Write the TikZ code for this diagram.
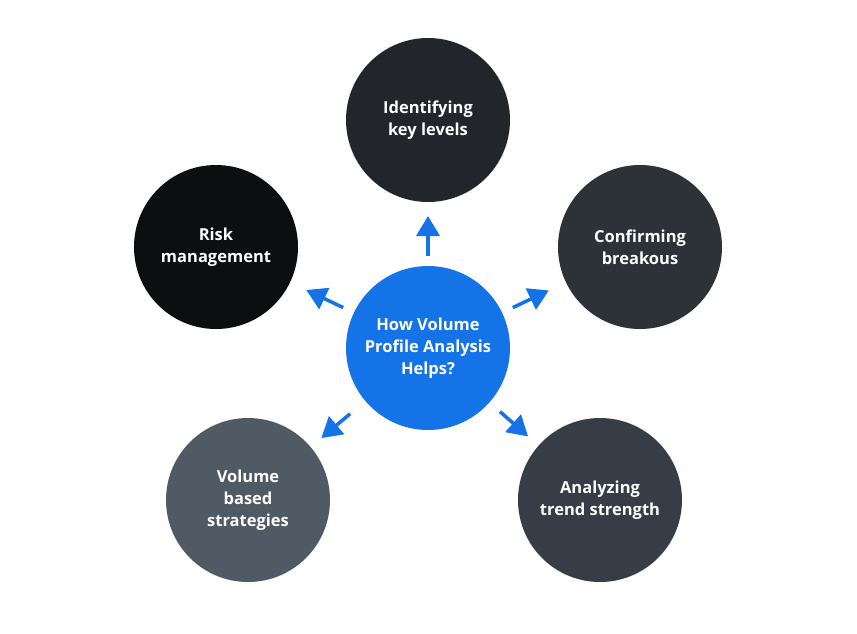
\documentclass[tikz,border=0pt]{standalone}
\usepackage{fontspec}
\setmainfont{Open Sans}
\usetikzlibrary{arrows.meta}
\definecolor{cblue}{HTML}{1473E6}
\definecolor{ctop}{HTML}{222529}
\definecolor{cleft}{HTML}{0D0E10}
\definecolor{cright}{HTML}{2D3237}
\definecolor{cbl}{HTML}{505A64}
\definecolor{cbr}{HTML}{363D46}
\tikzset{
  bubble/.style={circle, minimum size=164pt, inner sep=0pt, outer sep=0pt,
    text=white, align=center, font=\fontsize{16.5}{22}\selectfont\bfseries},
  arr/.style={draw=cblue, line width=3.5pt,
    -{Triangle[length=20pt,width=23pt]}}
}
\begin{document}
\begin{tikzpicture}[x=1pt,y=-1pt]
\useasboundingbox (0,0) rectangle (857,633);
\node[bubble, fill=cblue]  (c)  at (428,348) {How Volume\\Profile Analysis\\Helps?};
\node[bubble, fill=ctop]   (t)  at (428,120) {Identifying\\key levels};
\node[bubble, fill=cleft]  (l)  at (216,247) {Risk\\management};
\node[bubble, fill=cright] (r)  at (640,247) {Confirming\\breakous};
\node[bubble, fill=cbl]    (bl) at (248,500) {Volume\\based\\strategies};
\node[bubble, fill=cbr]    (br) at (600,500) {Analyzing\\trend strength};
\draw[arr, shorten <=10pt, shorten >=14pt] (c) -- (t);
\draw[arr, shorten <=12pt, shorten >=19pt] (c) -- (r);
\draw[arr, shorten <=12pt, shorten >=18pt] (c) -- (l);
\draw[arr, shorten <=20pt, shorten >=14pt] (c) -- (bl);
\draw[arr, shorten <=14pt, shorten >=14pt] (c) -- (br);
\end{tikzpicture}
\end{document}
